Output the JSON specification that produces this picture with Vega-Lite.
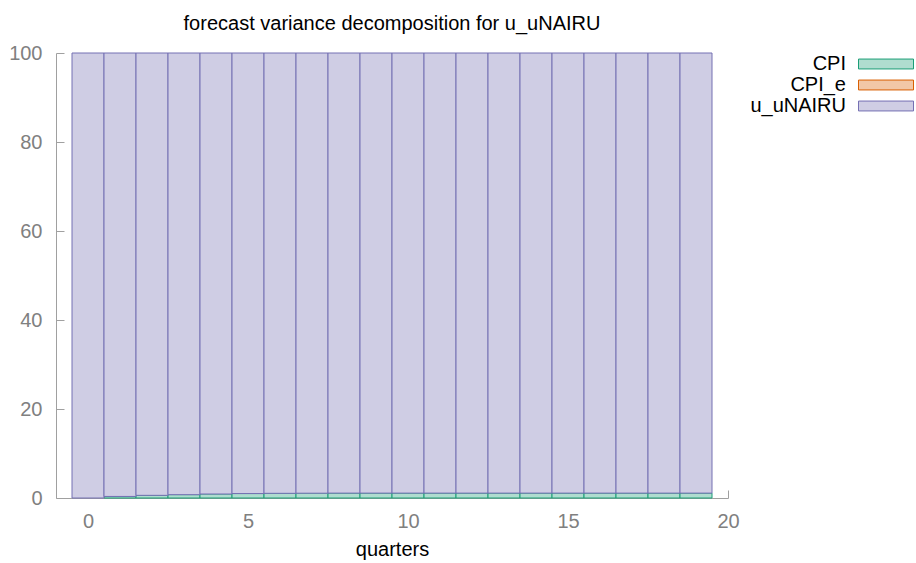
{
  "$schema": "https://vega.github.io/schema/vega-lite/v6.json",
  "autosize": "none",
  "width": 672,
  "height": 445,
  "padding": {"left": 56, "top": 53, "right": 188, "bottom": 65},
  "background": "white",
  "title": {
    "text": "forecast variance decomposition for u_uNAIRU",
    "font": "Liberation Sans",
    "fontSize": 20,
    "fontWeight": "normal",
    "color": "black",
    "anchor": "middle",
    "frame": "group",
    "baseline": "alphabetic",
    "offset": 14,
    "dy": 21
  },
  "config": {
    "view": {"stroke": null},
    "font": "Liberation Sans"
  },
  "data": {
    "values": [
      {"quarter": 1, "shock": "CPI", "share": 0.35},
      {"quarter": 2, "shock": "CPI", "share": 0.6},
      {"quarter": 3, "shock": "CPI", "share": 0.75},
      {"quarter": 4, "shock": "CPI", "share": 0.9},
      {"quarter": 5, "shock": "CPI", "share": 1.0},
      {"quarter": 6, "shock": "CPI", "share": 1.05},
      {"quarter": 7, "shock": "CPI", "share": 1.08},
      {"quarter": 8, "shock": "CPI", "share": 1.1},
      {"quarter": 9, "shock": "CPI", "share": 1.1},
      {"quarter": 10, "shock": "CPI", "share": 1.1},
      {"quarter": 11, "shock": "CPI", "share": 1.1},
      {"quarter": 12, "shock": "CPI", "share": 1.1},
      {"quarter": 13, "shock": "CPI", "share": 1.1},
      {"quarter": 14, "shock": "CPI", "share": 1.1},
      {"quarter": 15, "shock": "CPI", "share": 1.1},
      {"quarter": 16, "shock": "CPI", "share": 1.1},
      {"quarter": 17, "shock": "CPI", "share": 1.1},
      {"quarter": 18, "shock": "CPI", "share": 1.1},
      {"quarter": 19, "shock": "CPI", "share": 1.1},
      {"quarter": 0, "shock": "u_uNAIRU", "share": 100},
      {"quarter": 1, "shock": "u_uNAIRU", "share": 99.65},
      {"quarter": 2, "shock": "u_uNAIRU", "share": 99.4},
      {"quarter": 3, "shock": "u_uNAIRU", "share": 99.25},
      {"quarter": 4, "shock": "u_uNAIRU", "share": 99.1},
      {"quarter": 5, "shock": "u_uNAIRU", "share": 99.0},
      {"quarter": 6, "shock": "u_uNAIRU", "share": 98.95},
      {"quarter": 7, "shock": "u_uNAIRU", "share": 98.92},
      {"quarter": 8, "shock": "u_uNAIRU", "share": 98.9},
      {"quarter": 9, "shock": "u_uNAIRU", "share": 98.9},
      {"quarter": 10, "shock": "u_uNAIRU", "share": 98.9},
      {"quarter": 11, "shock": "u_uNAIRU", "share": 98.9},
      {"quarter": 12, "shock": "u_uNAIRU", "share": 98.9},
      {"quarter": 13, "shock": "u_uNAIRU", "share": 98.9},
      {"quarter": 14, "shock": "u_uNAIRU", "share": 98.9},
      {"quarter": 15, "shock": "u_uNAIRU", "share": 98.9},
      {"quarter": 16, "shock": "u_uNAIRU", "share": 98.9},
      {"quarter": 17, "shock": "u_uNAIRU", "share": 98.9},
      {"quarter": 18, "shock": "u_uNAIRU", "share": 98.9},
      {"quarter": 19, "shock": "u_uNAIRU", "share": 98.9}
    ]
  },
  "mark": {"type": "bar", "width": 32, "strokeWidth": 1, "fillOpacity": 1},
  "encoding": {
    "x": {
      "field": "quarter",
      "type": "quantitative",
      "scale": {"domain": [-1, 20], "nice": false, "zero": false, "padding": 0},
      "axis": {
        "title": "quarters",
        "titleFont": "Liberation Sans",
        "titleFontSize": 20,
        "titleFontWeight": "normal",
        "titleColor": "black",
        "titlePadding": 8,
        "values": [0, 5, 10, 15, 20],
        "format": "d",
        "labelFontSize": 20,
        "labelColor": "#808080",
        "labelPadding": 21,
        "labelFlush": false,
        "tickSize": -8,
        "tickColor": "#a0a0a0",
        "domainColor": "#a0a0a0",
        "grid": false
      }
    },
    "y": {
      "field": "share",
      "type": "quantitative",
      "stack": "zero",
      "scale": {"domain": [0, 100], "nice": false, "padding": 0},
      "axis": {
        "title": null,
        "values": [0, 20, 40, 60, 80, 100],
        "labelFontSize": 20,
        "labelColor": "#808080",
        "labelPadding": 22,
        "labelFlush": false,
        "tickSize": -8,
        "tickColor": "#a0a0a0",
        "domainColor": "#a0a0a0",
        "grid": false
      }
    },
    "order": {"field": "shock", "sort": "ascending"},
    "fill": {
      "field": "shock",
      "type": "nominal",
      "scale": {
        "domain": ["CPI", "CPI_e", "u_uNAIRU"],
        "range": ["#afddcf", "#f2c7a6", "#cfcde4"]
      },
      "legend": {
        "title": null,
        "orient": "none",
        "legendX": 820,
        "legendY": 1,
        "symbolType": "M-5,-0.9H5V0.9H-5Z",
        "symbolSize": 121,
        "symbolStrokeWidth": 1,
        "labelAlign": "right",
        "labelOffset": -50,
        "labelFontSize": 20,
        "labelColor": "black",
        "labelFont": "Liberation Sans",
        "rowPadding": 1,
        "labelLimit": 300
      }
    },
    "stroke": {
      "field": "shock",
      "type": "nominal",
      "scale": {
        "domain": ["CPI", "CPI_e", "u_uNAIRU"],
        "range": ["#1b9e77", "#d95f02", "#7570b3"]
      }
    }
  }
}
